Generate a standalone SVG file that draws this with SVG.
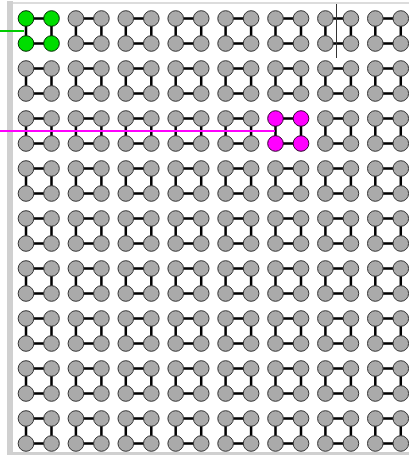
<svg xmlns="http://www.w3.org/2000/svg" width="409" height="457" viewBox="0 0 409 457">
<style>
.frame{fill:#d0d0d0}
.edge{fill:none;stroke:#000;stroke-width:2.5}
.node{fill:#aaaaaa;stroke:#333333;stroke-width:1}
.node.green{fill:#00dd00;stroke:#003000}
.node.pink{fill:#ff00ff;stroke:#300030}
</style>
<defs>
<g id="quad"><circle cx="0" cy="0" r="7.8"/><circle cx="25.5" cy="0" r="7.8"/><circle cx="0" cy="25" r="7.8"/><circle cx="25.5" cy="25" r="7.8"/></g>
</defs>
<rect width="409" height="457" fill="#ffffff"/>
<rect class="frame" x="7" y="1" width="6" height="454"/>
<rect x="13" y="2" width="396" height="2" fill="#dcdcdc"/>
<rect class="frame" x="7" y="452" width="402" height="3"/>
<g id="connectors">
<g class="edge">
<path d="M26 18.5h25.5v25H26z"/><path d="M75.9 18.5h25.5v25H75.9z"/><path d="M125.8 18.5h25.5v25H125.8z"/><path d="M175.7 18.5h25.5v25H175.7z"/><path d="M225.6 18.5h25.5v25H225.6z"/><path d="M275.5 18.5h25.5v25H275.5z"/><path d="M325.4 18.5h25.5v25H325.4z"/><path d="M375.3 18.5h25.5v25H375.3z"/>
<path d="M26 68.5h25.5v25H26z"/><path d="M75.9 68.5h25.5v25H75.9z"/><path d="M125.8 68.5h25.5v25H125.8z"/><path d="M175.7 68.5h25.5v25H175.7z"/><path d="M225.6 68.5h25.5v25H225.6z"/><path d="M275.5 68.5h25.5v25H275.5z"/><path d="M325.4 68.5h25.5v25H325.4z"/><path d="M375.3 68.5h25.5v25H375.3z"/>
<path d="M26 118.5h25.5v25H26z"/><path d="M75.9 118.5h25.5v25H75.9z"/><path d="M125.8 118.5h25.5v25H125.8z"/><path d="M175.7 118.5h25.5v25H175.7z"/><path d="M225.6 118.5h25.5v25H225.6z"/><path d="M275.5 118.5h25.5v25H275.5z"/><path d="M325.4 118.5h25.5v25H325.4z"/><path d="M375.3 118.5h25.5v25H375.3z"/>
<path d="M26 168.5h25.5v25H26z"/><path d="M75.9 168.5h25.5v25H75.9z"/><path d="M125.8 168.5h25.5v25H125.8z"/><path d="M175.7 168.5h25.5v25H175.7z"/><path d="M225.6 168.5h25.5v25H225.6z"/><path d="M275.5 168.5h25.5v25H275.5z"/><path d="M325.4 168.5h25.5v25H325.4z"/><path d="M375.3 168.5h25.5v25H375.3z"/>
<path d="M26 218.5h25.5v25H26z"/><path d="M75.9 218.5h25.5v25H75.9z"/><path d="M125.8 218.5h25.5v25H125.8z"/><path d="M175.7 218.5h25.5v25H175.7z"/><path d="M225.6 218.5h25.5v25H225.6z"/><path d="M275.5 218.5h25.5v25H275.5z"/><path d="M325.4 218.5h25.5v25H325.4z"/><path d="M375.3 218.5h25.5v25H375.3z"/>
<path d="M26 268.5h25.5v25H26z"/><path d="M75.9 268.5h25.5v25H75.9z"/><path d="M125.8 268.5h25.5v25H125.8z"/><path d="M175.7 268.5h25.5v25H175.7z"/><path d="M225.6 268.5h25.5v25H225.6z"/><path d="M275.5 268.5h25.5v25H275.5z"/><path d="M325.4 268.5h25.5v25H325.4z"/><path d="M375.3 268.5h25.5v25H375.3z"/>
<path d="M26 318.5h25.5v25H26z"/><path d="M75.9 318.5h25.5v25H75.9z"/><path d="M125.8 318.5h25.5v25H125.8z"/><path d="M175.7 318.5h25.5v25H175.7z"/><path d="M225.6 318.5h25.5v25H225.6z"/><path d="M275.5 318.5h25.5v25H275.5z"/><path d="M325.4 318.5h25.5v25H325.4z"/><path d="M375.3 318.5h25.5v25H375.3z"/>
<path d="M26 368.5h25.5v25H26z"/><path d="M75.9 368.5h25.5v25H75.9z"/><path d="M125.8 368.5h25.5v25H125.8z"/><path d="M175.7 368.5h25.5v25H175.7z"/><path d="M225.6 368.5h25.5v25H225.6z"/><path d="M275.5 368.5h25.5v25H275.5z"/><path d="M325.4 368.5h25.5v25H325.4z"/><path d="M375.3 368.5h25.5v25H375.3z"/>
<path d="M26 418.5h25.5v25H26z"/><path d="M75.9 418.5h25.5v25H75.9z"/><path d="M125.8 418.5h25.5v25H125.8z"/><path d="M175.7 418.5h25.5v25H175.7z"/><path d="M225.6 418.5h25.5v25H225.6z"/><path d="M275.5 418.5h25.5v25H275.5z"/><path d="M325.4 418.5h25.5v25H325.4z"/><path d="M375.3 418.5h25.5v25H375.3z"/>
</g>
<path d="M0 31H24" stroke="#00cc00" stroke-width="2" fill="none"/>
<path d="M0 131H275" stroke="#ff00ff" stroke-width="2" fill="none"/>
<path d="M336.5 4V58" stroke="#333333" stroke-width="1" fill="none"/>
</g>
<g id="nodes">
<g id="n0_0" class="node green" transform="translate(26,18.5)"><use href="#quad"/></g>
<g id="n0_1" class="node" transform="translate(75.9,18.5)"><use href="#quad"/></g>
<g id="n0_2" class="node" transform="translate(125.8,18.5)"><use href="#quad"/></g>
<g id="n0_3" class="node" transform="translate(175.7,18.5)"><use href="#quad"/></g>
<g id="n0_4" class="node" transform="translate(225.6,18.5)"><use href="#quad"/></g>
<g id="n0_5" class="node" transform="translate(275.5,18.5)"><use href="#quad"/></g>
<g id="n0_6" class="node" transform="translate(325.4,18.5)"><use href="#quad"/></g>
<g id="n0_7" class="node" transform="translate(375.3,18.5)"><use href="#quad"/></g>
<g id="n1_0" class="node" transform="translate(26,68.5)"><use href="#quad"/></g>
<g id="n1_1" class="node" transform="translate(75.9,68.5)"><use href="#quad"/></g>
<g id="n1_2" class="node" transform="translate(125.8,68.5)"><use href="#quad"/></g>
<g id="n1_3" class="node" transform="translate(175.7,68.5)"><use href="#quad"/></g>
<g id="n1_4" class="node" transform="translate(225.6,68.5)"><use href="#quad"/></g>
<g id="n1_5" class="node" transform="translate(275.5,68.5)"><use href="#quad"/></g>
<g id="n1_6" class="node" transform="translate(325.4,68.5)"><use href="#quad"/></g>
<g id="n1_7" class="node" transform="translate(375.3,68.5)"><use href="#quad"/></g>
<g id="n2_0" class="node" transform="translate(26,118.5)"><use href="#quad"/></g>
<g id="n2_1" class="node" transform="translate(75.9,118.5)"><use href="#quad"/></g>
<g id="n2_2" class="node" transform="translate(125.8,118.5)"><use href="#quad"/></g>
<g id="n2_3" class="node" transform="translate(175.7,118.5)"><use href="#quad"/></g>
<g id="n2_4" class="node" transform="translate(225.6,118.5)"><use href="#quad"/></g>
<g id="n2_5" class="node pink" transform="translate(275.5,118.5)"><use href="#quad"/></g>
<g id="n2_6" class="node" transform="translate(325.4,118.5)"><use href="#quad"/></g>
<g id="n2_7" class="node" transform="translate(375.3,118.5)"><use href="#quad"/></g>
<g id="n3_0" class="node" transform="translate(26,168.5)"><use href="#quad"/></g>
<g id="n3_1" class="node" transform="translate(75.9,168.5)"><use href="#quad"/></g>
<g id="n3_2" class="node" transform="translate(125.8,168.5)"><use href="#quad"/></g>
<g id="n3_3" class="node" transform="translate(175.7,168.5)"><use href="#quad"/></g>
<g id="n3_4" class="node" transform="translate(225.6,168.5)"><use href="#quad"/></g>
<g id="n3_5" class="node" transform="translate(275.5,168.5)"><use href="#quad"/></g>
<g id="n3_6" class="node" transform="translate(325.4,168.5)"><use href="#quad"/></g>
<g id="n3_7" class="node" transform="translate(375.3,168.5)"><use href="#quad"/></g>
<g id="n4_0" class="node" transform="translate(26,218.5)"><use href="#quad"/></g>
<g id="n4_1" class="node" transform="translate(75.9,218.5)"><use href="#quad"/></g>
<g id="n4_2" class="node" transform="translate(125.8,218.5)"><use href="#quad"/></g>
<g id="n4_3" class="node" transform="translate(175.7,218.5)"><use href="#quad"/></g>
<g id="n4_4" class="node" transform="translate(225.6,218.5)"><use href="#quad"/></g>
<g id="n4_5" class="node" transform="translate(275.5,218.5)"><use href="#quad"/></g>
<g id="n4_6" class="node" transform="translate(325.4,218.5)"><use href="#quad"/></g>
<g id="n4_7" class="node" transform="translate(375.3,218.5)"><use href="#quad"/></g>
<g id="n5_0" class="node" transform="translate(26,268.5)"><use href="#quad"/></g>
<g id="n5_1" class="node" transform="translate(75.9,268.5)"><use href="#quad"/></g>
<g id="n5_2" class="node" transform="translate(125.8,268.5)"><use href="#quad"/></g>
<g id="n5_3" class="node" transform="translate(175.7,268.5)"><use href="#quad"/></g>
<g id="n5_4" class="node" transform="translate(225.6,268.5)"><use href="#quad"/></g>
<g id="n5_5" class="node" transform="translate(275.5,268.5)"><use href="#quad"/></g>
<g id="n5_6" class="node" transform="translate(325.4,268.5)"><use href="#quad"/></g>
<g id="n5_7" class="node" transform="translate(375.3,268.5)"><use href="#quad"/></g>
<g id="n6_0" class="node" transform="translate(26,318.5)"><use href="#quad"/></g>
<g id="n6_1" class="node" transform="translate(75.9,318.5)"><use href="#quad"/></g>
<g id="n6_2" class="node" transform="translate(125.8,318.5)"><use href="#quad"/></g>
<g id="n6_3" class="node" transform="translate(175.7,318.5)"><use href="#quad"/></g>
<g id="n6_4" class="node" transform="translate(225.6,318.5)"><use href="#quad"/></g>
<g id="n6_5" class="node" transform="translate(275.5,318.5)"><use href="#quad"/></g>
<g id="n6_6" class="node" transform="translate(325.4,318.5)"><use href="#quad"/></g>
<g id="n6_7" class="node" transform="translate(375.3,318.5)"><use href="#quad"/></g>
<g id="n7_0" class="node" transform="translate(26,368.5)"><use href="#quad"/></g>
<g id="n7_1" class="node" transform="translate(75.9,368.5)"><use href="#quad"/></g>
<g id="n7_2" class="node" transform="translate(125.8,368.5)"><use href="#quad"/></g>
<g id="n7_3" class="node" transform="translate(175.7,368.5)"><use href="#quad"/></g>
<g id="n7_4" class="node" transform="translate(225.6,368.5)"><use href="#quad"/></g>
<g id="n7_5" class="node" transform="translate(275.5,368.5)"><use href="#quad"/></g>
<g id="n7_6" class="node" transform="translate(325.4,368.5)"><use href="#quad"/></g>
<g id="n7_7" class="node" transform="translate(375.3,368.5)"><use href="#quad"/></g>
<g id="n8_0" class="node" transform="translate(26,418.5)"><use href="#quad"/></g>
<g id="n8_1" class="node" transform="translate(75.9,418.5)"><use href="#quad"/></g>
<g id="n8_2" class="node" transform="translate(125.8,418.5)"><use href="#quad"/></g>
<g id="n8_3" class="node" transform="translate(175.7,418.5)"><use href="#quad"/></g>
<g id="n8_4" class="node" transform="translate(225.6,418.5)"><use href="#quad"/></g>
<g id="n8_5" class="node" transform="translate(275.5,418.5)"><use href="#quad"/></g>
<g id="n8_6" class="node" transform="translate(325.4,418.5)"><use href="#quad"/></g>
<g id="n8_7" class="node" transform="translate(375.3,418.5)"><use href="#quad"/></g>
</g>
</svg>
